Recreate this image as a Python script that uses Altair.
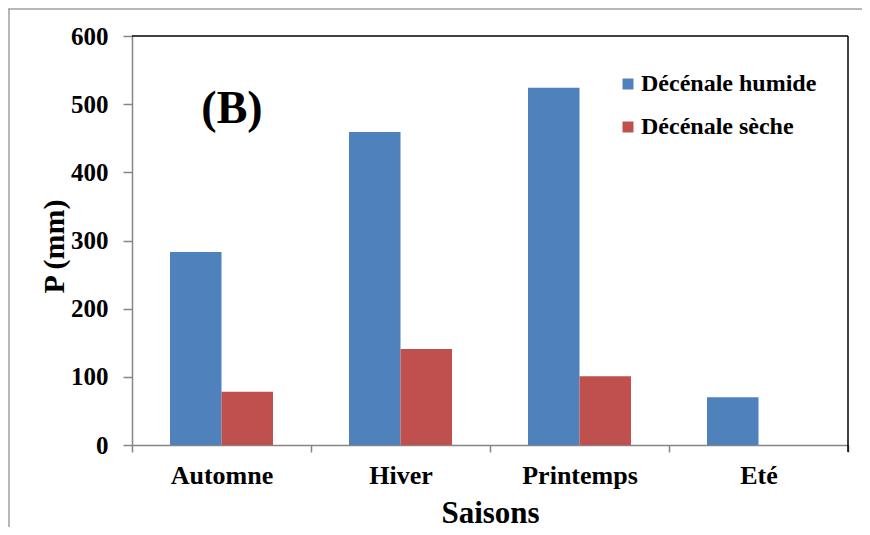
import altair as alt
import pandas as pd

saisons = ["Automne", "Hiver", "Printemps", "Eté"]
series = ["Décénale humide", "Décénale sèche"]
humide = [283, 459, 524, 70]
seche = [78, 141, 101, 0]
colors = ["#4F81BD", "#C0504D"]
y_ticks = [0, 100, 200, 300, 400, 500, 600]

rows = []
for s, h, d in zip(saisons, humide, seche):
    rows.append({"saison": s, "serie": series[0], "P": h})
    rows.append({"saison": s, "serie": series[1], "P": d})
df = pd.DataFrame(rows)

FONT = "Liberation Serif"
W, H = 716, 409
AX = "#868686"

bars = alt.Chart(df).mark_bar().encode(
    x=alt.X("saison:N", sort=saisons,
            scale=alt.Scale(paddingInner=0, paddingOuter=0),
            axis=alt.Axis(title="Saisons", labelAngle=0, tickBand="extent",
                          labelFont=FONT, labelFontSize=26, labelFontWeight="bold",
                          labelColor="black", labelPadding=10,
                          titleFont=FONT, titleFontSize=31, titleFontWeight="bold",
                          titleColor="black", titleY=77, titleBaseline="alphabetic",
                          domainColor=AX, domainWidth=1.5, tickColor=AX, tickWidth=1.5,
                          tickSize=7)),
    xOffset=alt.XOffset("serie:N", sort=series,
                        scale=alt.Scale(paddingOuter=0.738, paddingInner=0)),
    y=alt.Y("P:Q", scale=alt.Scale(domain=[0, 600], nice=False),
            axis=alt.Axis(title="P (mm)", values=y_ticks, grid=False,
                          labelFont=FONT, labelFontSize=25, labelFontWeight="bold",
                          labelColor="black", labelPadding=15,
                          titleFont=FONT, titleFontSize=30, titleFontWeight="bold",
                          titleColor="black", titleAngle=-90, titleX=-78, titleY=210,
                          titleAlign="center", titleBaseline="middle",
                          domainColor=AX, domainWidth=1.5, tickColor=AX, tickWidth=1.5,
                          tickSize=9)),
    color=alt.Color("serie:N", sort=series,
                    scale=alt.Scale(domain=series, range=colors),
                    legend=alt.Legend(title=None, orient="none", legendX=484, legendY=36,
                                      symbolType="square", symbolSize=121,
                                      symbolStrokeWidth=0, labelFont=FONT,
                                      labelFontSize=24, labelFontWeight="bold",
                                      labelColor="black", rowPadding=19,
                                      labelOffset=1, labelLimit=0)),
)

label_b = alt.Chart(pd.DataFrame({"t": ["(B)"]})).mark_text(
    font=FONT, fontSize=46, fontWeight="bold", color="black", baseline="middle"
).encode(x=alt.value(100), y=alt.value(73), text="t:N")

top_line = alt.Chart(pd.DataFrame({"a": [0]})).mark_rule(color="black", strokeWidth=1.5).encode(
    x=alt.value(0), x2=alt.value(W), y=alt.value(0))
right_line = alt.Chart(pd.DataFrame({"a": [0]})).mark_rule(color="black", strokeWidth=1.5).encode(
    x=alt.value(W), y=alt.value(0), y2=alt.value(H + 7))
frame_top = alt.Chart(pd.DataFrame({"a": [0]})).mark_rule(color="#A0A0A0", strokeWidth=1.5, clip=False).encode(
    x=alt.value(-124), x2=alt.value(W + 14), y=alt.value(-27))
frame_left = alt.Chart(pd.DataFrame({"a": [0]})).mark_rule(color="#A0A0A0", strokeWidth=1.5, clip=False).encode(
    x=alt.value(-123), y=alt.value(-27), y2=alt.value(H + 82))

chart = alt.layer(bars, label_b, top_line, right_line, frame_top, frame_left).properties(
    width=W, height=H,
    autosize=alt.AutoSizeParams(type="none"),
    padding={"left": 124, "top": 28, "right": 14, "bottom": 82},
).configure(
    background="white",
    view=alt.ViewConfig(stroke=None),
)

chart.save("out.html", embed_options={"renderer": "svg", "actions": False})
